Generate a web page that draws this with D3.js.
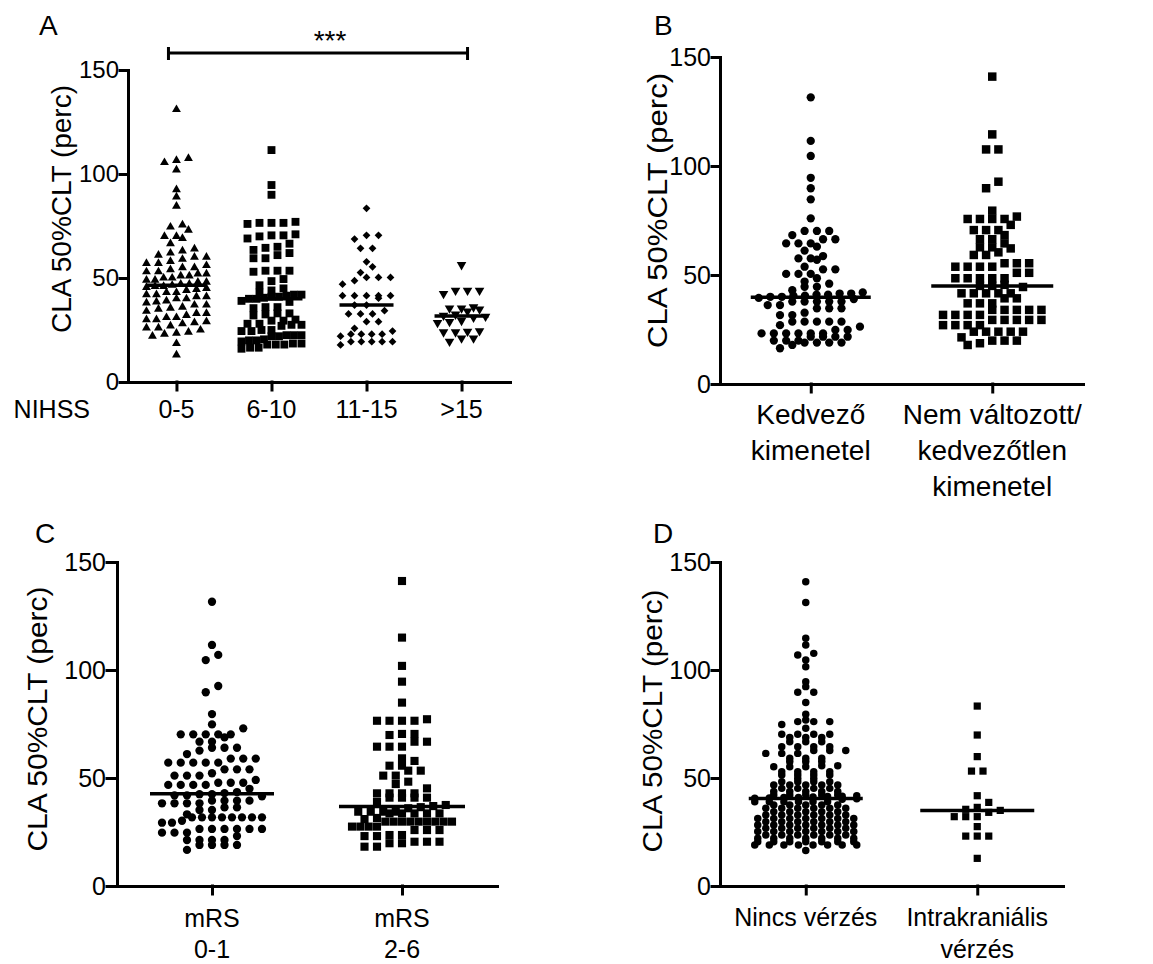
<!DOCTYPE html>
<html>
<head>
<meta charset="utf-8">
<script src="https://cdn.jsdelivr.net/npm/d3@7"></script>
<style>
  body { margin: 0; background: #fff; }
  svg text { font-family: "Liberation Sans", Arial, sans-serif; fill: #000; }
</style>
</head>
<body>
<div id="fig"></div>
<script>
// tengely
const yTicks = [0, 50, 100, 150];
const yTitle = "CLA 50%CLT (perc)";

// A - NIHSS
const nihssCats = ["0-5", "6-10", "11-15", ">15"];
const nihss05 = [131, 107.5, 105.5, 106.5, 102, 92.5, 89, 84.5, 75.5, 74.5, 73, 70, 70, 69, 66.5,
  64, 63, 62, 61, 60, 60, 59, 58, 57, 57, 56, 55, 55,
  54, 53, 53, 52, 52, 51, 51, 50, 50, 49, 49, 48, 48, 47, 47, 46.5, 46, 46, 45.5, 45,
  44.5, 44, 43, 43, 42, 42, 41, 41, 40, 40, 39, 38.5, 38, 37, 37, 36, 35.5, 35,
  34, 33, 33, 32, 31, 31, 30, 30, 29, 28.5, 28, 27, 26, 26, 25, 24, 23.5, 23, 22, 18.5, 13];
const nihss610 = [111.5, 94.7, 90, 76.5, 76.5, 76.5, 77, 76, 70.5, 70.5, 70, 69, 71,
  66.5, 65, 64.5, 63.5, 62, 61, 59.5, 59.5, 53.5, 53.5, 53.5, 53, 49.5, 48.5, 46.5, 45,
  44, 43, 42, 42, 41.5, 41, 41, 40.5, 40, 40, 39, 38.5,
  36, 36, 35.5, 33, 33, 32.5, 32, 30, 29.5, 29.5, 28, 28, 27.5, 27.5, 27,
  25, 25, 24.5, 24.5, 22.5, 22.5, 22.5, 22, 22, 20.5, 20, 20, 19.5,
  18.5, 18.5, 18, 18, 18, 16.5, 16.5, 16];
const nihss1115 = [83.5, 70.5, 70.5, 68.7, 64.3, 64.3, 57.8, 55.4, 52.6, 50.3, 50.3, 50.3, 48.7, 47,
  41.5, 41.5, 41.5, 41.5, 41.5, 40.3, 37, 37, 34.3, 32.7, 32.7, 32.7, 29, 29, 25.8, 24.5,
  23, 23, 23, 23, 22, 19.4, 19.4, 19.4, 19.4, 19.4, 17.8];
const nihss15 = [56.3, 44, 44, 44, 42.4, 36, 35.5, 35.5, 35, 34, 32.5, 32, 31.5, 31, 29.5, 29, 28.5,
  24.5, 24.3, 24, 24, 21, 21, 19.5];

// B - kimenetel
const kimCats = ["Kedvező\nkimenetel", "Nem változott/\nkedvezőtlen\nkimenetel"];
const kedvezo = [131.5, 111.5, 104.6, 94.6, 89.8, 84.7, 76,
  70.2, 70.2, 70.2, 68.3, 66.4, 66.4, 64.5, 64.5, 64.5, 63, 61.2,
  58.7, 57.6, 57.6, 57, 53.8, 52.6, 52.6, 50.5, 50.5, 50.5, 48.5, 47, 46, 44.6, 44.6,
  43, 42, 41.5, 41.5, 41, 41, 40.5, 40.5, 40, 40, 39.5, 39,
  37.8, 37.8, 37.8, 37.8, 37.8, 36.2, 36.2, 34.7, 34.7, 34.7, 32.7, 31.6, 31.6,
  28.6, 28.6, 28.6, 28.6, 28.6, 27, 26.3, 24.8, 24.8,
  23.2, 23.2, 23.2, 23.2, 23.2, 23.2, 21.7, 21.7, 21.7, 21.7,
  19.9, 19.9, 19.9, 19, 19, 19, 19, 17.9, 16.4];
const nemValt = [141, 114.5, 107.6, 107.6, 92.8, 89.8, 79.5, 76.8, 75.7, 75.7, 75.7, 75.7, 73,
  70.6, 70.6, 70.6, 68.3, 66.4, 66.4, 64.5, 62.7, 62.7, 62.2, 60.4, 59.2, 59.2,
  55.4, 55.4, 55.4, 53.8, 53.8, 53.8, 53.8, 51, 51, 48.5, 48.5, 48.5, 48.5, 48.5,
  45.5, 45, 45, 44.5, 41.6, 41.6, 41.6, 41.6, 41.6, 39.3, 39.3, 37, 37, 37,
  34, 34, 34, 34, 34, 31.7, 31.7, 31.7, 31.7, 29.4, 29.4, 29.4, 29.4, 29.4, 27, 27, 27, 27,
  24, 24, 24, 24, 24, 21.4, 19.9, 19.9, 19.9, 18.7, 17.9];

// C - mRS
const mrsCats = ["mRS\n0-1", "mRS\n2-6"];
const mrs01 = [131.6, 111.6, 107, 104.6, 92.6, 89.7, 79.6, 74.8, 73,
  70.2, 70.2, 70.2, 70.2, 70.2, 68.8, 66.8, 66.8, 64, 64, 64, 62.7, 61.1, 59, 59, 59,
  57.1, 57.1, 57.1, 57.1, 57.1, 54, 54, 54, 52.2, 51.1, 51.1, 51.1, 49.1, 47.8, 47.8, 47.8,
  46.8, 46.8, 46.8, 46.8, 45, 43.5, 43, 42.5, 42.5, 42, 42, 41.5,
  39.5, 39.5, 39.5, 39.5, 38.3, 38.3, 38.3, 38.3, 36.4, 36.4, 35.2, 35.2, 33.2,
  31.8, 31.8, 31.8, 31.8, 31.8, 31.8, 31.8, 31.8, 30.2, 29.3, 29.3,
  26.4, 26.4, 26.4, 26.4, 26.4, 26.4, 24.7, 24.7, 24.7, 23.1,
  21.3, 21.3, 21.3, 21.3, 19, 19, 19, 19, 16.7];
const mrs26 = [141.2, 115, 101.9, 94.6, 84.9, 77.2, 76.5, 76.5, 76.5, 76.5, 70.4, 70.4, 69.9,
  66.8, 66.8, 64.5, 64.5, 64.5, 59.1, 57.9, 55.7, 55.7, 53.4, 53.4, 51.1, 51.1, 48.3, 47.2, 45.2,
  42.9, 42.9, 42.9, 42.9, 40.9, 40.9, 40.9, 40.9, 39, 37.5, 37, 36.5, 36,
  34.4, 34.4, 34.4, 34.4, 33.6, 33.6, 33.6, 33.6, 33.6, 31.5, 31,
  29.8, 29.8, 29.8, 29.8, 29.8, 29.8, 29.8, 29.8, 29.8, 27.5, 27.5, 27.5, 27.5,
  25.9, 25.9, 25.9, 23.6, 23.6, 23.1, 23.1, 20.5, 20.5, 20.5, 19.8, 19.8, 18.2, 18.2];

// D - vérzés
const verzCats = ["Nincs vérzés", "Intrakraniális\nvérzés"];
const nincs = [140.9, 131.3, 114.7, 111.6, 107.7, 106.9, 104.6, 101.5, 94.6, 92.3, 89.7, 89.7, 84.9, 79.5,
  76.9, 76.1, 76.1, 76.1, 74.8, 73, 70.3, 70.3, 70.3, 70.3, 68.8, 68.8, 68.8,
  66.8, 66.8, 66.8, 64.5, 64.5, 64.5, 64.5, 62.7, 62.7, 62.7, 61.4, 61.4, 61.4,
  59.1, 59.1, 59.1, 57.6, 57.6, 57.6, 55.7, 55.7, 55.2, 55.2, 55.2,
  52.9, 52.9, 52.9, 52.9, 51.4, 51.4, 51.4, 51.4, 49.8, 49.8, 48.3, 48.3, 48.3, 48.3,
  46.8, 46.8, 46.8, 46.8, 46.8, 45.2, 45.2, 45.2, 45.2,
  43.7, 43.7, 43.7, 43.7, 43.7, 42.1, 42.1, 42.1, 42.1, 42.1,
  41.8, 41.6, 41.4, 41.2, 41, 41, 40.8, 40.6, 40.4, 40.2,
  39, 39, 39, 39, 39, 39, 37.5, 37.5, 37.5, 37.5, 37.5,
  36, 36, 36, 36, 36, 36, 34.4, 34.4, 34.4, 34.4, 34.4,
  32.9, 32.9, 32.9, 32.9, 32.9, 32.9, 31.3, 31.3, 31.3, 31.3, 31.3, 31.3, 31.3,
  29.8, 29.8, 29.8, 29.8, 29.8, 29.8, 28.2, 28.2, 28.2, 28.2, 28.2, 28.2, 28.2,
  26.7, 26.7, 26.7, 26.7, 26.7, 26.7, 25.2, 25.2, 25.2, 25.2, 25.2, 25.2, 25.2,
  23.6, 23.6, 23.6, 23.6, 23.6, 23.6, 22.1, 22.1, 22.1, 22.1, 22.1, 22.1, 22.1,
  20.5, 20.5, 20.5, 20.5, 20.5, 20.5, 20.5, 19, 19, 19, 19, 19, 19, 19, 19, 16.4];
const ich = [83.3, 69.9, 59.9, 53.2, 53.2, 41.8, 38.7, 36.4, 35.5, 35, 34.1, 32.1, 32.1, 32.1,
  27.5, 23.1, 23.1, 23.1, 12.8];

// Prism-szerű elrendezés: sávokba sorolás, soron belül középre igazítva
function swarm(values, y, binH, colW, maxW) {
  let pts = values.map(v => ({ v: v, py: y(v) })).sort((a, b) => b.py - a.py);
  let bins = [], cur = null;
  for (let p of pts) {
    if (!cur || cur.start - p.py >= binH) {
      cur = { start: p.py, items: [] };
      bins.push(cur);
    }
    cur.items.push(p);
  }
  for (let b of bins) {
    let n = b.items.length;
    let w = n > 1 ? Math.min(colW, maxW / (n - 1)) : colW;
    b.items.forEach((p, i) => p.dx = (i - (n - 1) / 2) * w);
  }
  return pts;
}

function scatter_panel(svg, p) {
  let y = d3.scaleLinear().domain([0, 150]).range([p.y0, p.y1]);
  let x = d3.scalePoint().domain(p.cats).range([p.x0, p.x1]).padding(p.pad);
  let g = svg.append("g");

  // y tengely
  let gy = g.append("g")
    .attr("transform", `translate(${p.x0},0)`)
    .call(d3.axisLeft(y).tickValues(yTicks).tickSize(p.tick).tickSizeOuter(0).tickPadding(p.tickPad));
  gy.attr("font-family", null).attr("font-size", null);
  gy.selectAll("path, line").attr("stroke", "#000").attr("stroke-width", 3).attr("stroke-linecap", "square");
  gy.selectAll("text").attr("fill", "#000").style("font-size", p.tickFont + "px");

  // x tengely
  let gx = g.append("g")
    .attr("transform", `translate(0,${p.y0})`)
    .call(d3.axisBottom(x).tickSize(8).tickSizeOuter(0).tickFormat(""));
  gx.selectAll("path, line").attr("stroke", "#000").attr("stroke-width", 3).attr("stroke-linecap", "square");

  // kategória feliratok (több soros)
  p.cats.forEach(c => {
    let t = g.append("text").attr("text-anchor", "middle").style("font-size", p.catFont + "px");
    c.split("\n").forEach((line, j) => {
      t.append("tspan").attr("x", x(c)).attr("y", p.catY + j * p.catGap).text(line);
    });
  });

  // pontok + medián
  p.groups.forEach((vals, i) => {
    let s = p.symbols[i];
    let cx = x(p.cats[i]);
    let pts = swarm(vals, y, p.binH[i], p.colW[i], p.maxW[i]);
    g.append("g").selectAll("path")
      .data(pts)
      .join("path")
      .attr("d", d3.symbol(s.type, s.size)())
      .attr("transform", d => `translate(${cx + d.dx},${d.py}) rotate(${s.rot})`)
      .attr("fill", "#000");
    let med = d3.median(vals);
    g.append("line")
      .attr("x1", cx - p.medW[i]).attr("x2", cx + p.medW[i])
      .attr("y1", y(med)).attr("y2", y(med))
      .attr("stroke", "#000").attr("stroke-width", 3.5);
  });

  // y tengely címe
  g.append("text")
    .attr("transform", `translate(${p.titleX},${(p.y0 + p.y1) / 2 + p.titleDy}) rotate(-90)`)
    .attr("text-anchor", "middle")
    .attr("textLength", p.titleLen).attr("lengthAdjust", "spacingAndGlyphs")
    .style("font-size", p.titleFont + "px")
    .text(yTitle);

  // panel betűjele
  g.append("text").attr("x", p.letterX).attr("y", p.letterY).style("font-size", "28px").text(p.letter);

  return { x: x, y: y, g: g };
}

const svg = d3.select("#fig").append("svg")
  .attr("width", 1153).attr("height", 964)
  .style("background", "#fff");

const tri = { type: d3.symbolTriangle, size: 34, rot: 0 };
const triDown = { type: d3.symbolTriangle, size: 40, rot: 180 };
const sq = (size) => ({ type: d3.symbolSquare, size: size, rot: 0 });
const diam = { type: d3.symbolSquare, size: 30, rot: 45 };
const circ = (size) => ({ type: d3.symbolCircle, size: size, rot: 0 });

let pA = scatter_panel(svg, {
  cats: nihssCats, groups: [nihss05, nihss610, nihss1115, nihss15],
  symbols: [tri, sq(62), diam, triDown],
  x0: 128, x1: 510, y0: 382, y1: 70, pad: 0.51,
  tick: 8, tickPad: 1, tickFont: 24,
  catFont: 25, catY: 418, catGap: 0,
  titleX: 71, titleDy: -17, titleLen: 248, titleFont: 27,
  binH: [7, 7, 7, 7], colW: [12, 12, 12, 12], maxW: [60, 60, 52, 52], medW: [30, 31, 27, 27],
  letter: "A", letterX: 39, letterY: 35
});

// NIHSS felirat
pA.g.append("text").attr("x", 90).attr("y", 418).attr("text-anchor", "end")
  .style("font-size", "25px").text("NIHSS");

// szignifikancia jelölés 0-5 vs >15
let bx1 = pA.x(nihssCats[0]) - 8, bx2 = pA.x(nihssCats[3]) + 6;
let sig = pA.g.append("g").attr("stroke", "#000").attr("stroke-width", 3);
sig.append("line").attr("x1", bx1).attr("x2", bx2).attr("y1", 53).attr("y2", 53);
sig.append("line").attr("x1", bx1).attr("x2", bx1).attr("y1", 47).attr("y2", 60);
sig.append("line").attr("x1", bx2).attr("x2", bx2).attr("y1", 47).attr("y2", 60);
pA.g.append("text").attr("x", (bx1 + bx2) / 2 + 12).attr("y", 50)
  .attr("text-anchor", "middle").style("font-size", "28px").text("***");

scatter_panel(svg, {
  cats: kimCats, groups: [kedvezo, nemValt],
  symbols: [circ(54), sq(72)],
  x0: 720, x1: 1083, y0: 384, y1: 57, pad: 0.5,
  tick: 8, tickPad: 1, tickFont: 25,
  catFont: 28, catY: 424, catGap: 36,
  titleX: 667, titleDy: -10, titleLen: 275, titleFont: 28,
  binH: [7, 7], colW: [12.3, 12.3], maxW: [104, 100], medW: [60, 61],
  letter: "B", letterX: 654, letterY: 35
});

scatter_panel(svg, {
  cats: mrsCats, groups: [mrs01, mrs26],
  symbols: [circ(54), sq(66)],
  x0: 117, x1: 497, y0: 886, y1: 562, pad: 0.5,
  tick: 10, tickPad: 1, tickFont: 25,
  catFont: 25, catY: 927, catGap: 31,
  titleX: 47, titleDy: -5, titleLen: 265, titleFont: 27,
  binH: [7, 7], colW: [12.5, 12.5], maxW: [100, 100], medW: [62, 63],
  letter: "C", letterX: 35, letterY: 543
});

scatter_panel(svg, {
  cats: verzCats, groups: [nincs, ich],
  symbols: [circ(44), sq(52)],
  x0: 720, x1: 1063, y0: 886, y1: 562, pad: 0.5,
  tick: 8, tickPad: 1, tickFont: 25,
  catFont: 25, catY: 926, catGap: 32,
  titleX: 662, titleDy: -3, titleLen: 263, titleFont: 27,
  binH: [3.2, 7], colW: [16, 11.5], maxW: [102, 46], medW: [57, 57],
  letter: "D", letterX: 653, letterY: 543
});
</script>
</body>
</html>
